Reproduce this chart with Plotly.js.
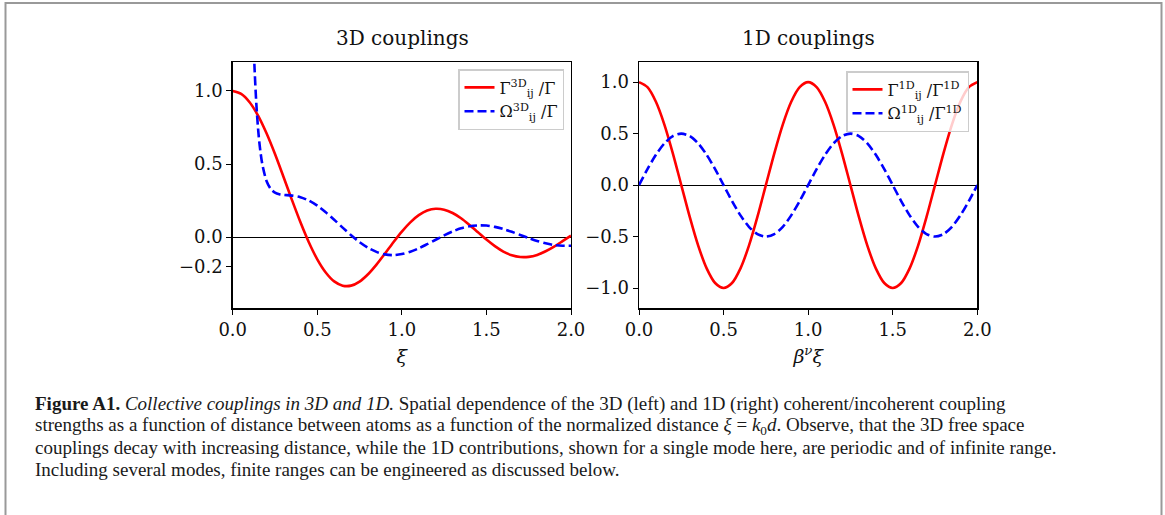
<!DOCTYPE html>
<html>
<head>
<meta charset="utf-8">
<script src="https://cdn.plot.ly/plotly-3.0.1.min.js"></script>
<style>
  html, body { margin: 0; padding: 0; background: #fff; }
  #fig { width: 1165px; height: 515px; }
</style>
</head>
<body>
<div id="fig"></div>
<script>
// ---- 3D free-space couplings vs normalized distance xi ----
const xi3D = [0, 0.05, 0.1, 0.15, 0.2, 0.25, 0.3, 0.35, 0.4, 0.45, 0.5, 0.55, 0.6, 0.65, 0.7,
  0.75, 0.8, 0.85, 0.9, 0.95, 1.0, 1.05, 1.1, 1.15, 1.2, 1.25, 1.3, 1.35, 1.4, 1.45, 1.5,
  1.55, 1.6, 1.65, 1.7, 1.75, 1.8, 1.85, 1.9, 1.95, 2.0];
const gamma3D = [1.0, 0.980, 0.923, 0.831, 0.710, 0.568, 0.413, 0.255, 0.103, -0.035, -0.152,
  -0.242, -0.303, -0.332, -0.332, -0.304, -0.254, -0.188, -0.113, -0.035, 0.038, 0.101, 0.150,
  0.182, 0.194, 0.188, 0.165, 0.129, 0.083, 0.033, -0.017, -0.062, -0.099, -0.124, -0.136,
  -0.135, -0.122, -0.097, -0.065, -0.028, 0.010];

const xiOmega3D = [0.12, 0.125, 0.13, 0.14, 0.15, 0.16, 0.175, 0.2, 0.225, 0.25, 0.275, 0.3,
  0.35, 0.4, 0.45, 0.5, 0.55, 0.6, 0.65, 0.7, 0.75, 0.8, 0.85, 0.9, 0.95, 1.0, 1.05, 1.1,
  1.15, 1.2, 1.25, 1.3, 1.35, 1.4, 1.45, 1.5, 1.55, 1.6, 1.65, 1.7, 1.75, 1.8, 1.85, 1.9,
  1.95, 2.0];
const omega3D = [1.454, 1.279, 1.133, 0.906, 0.742, 0.622, 0.499, 0.384, 0.329, 0.304, 0.293,
  0.289, 0.284, 0.273, 0.250, 0.215, 0.170, 0.119, 0.065, 0.013, -0.034, -0.073, -0.101,
  -0.118, -0.123, -0.116, -0.100, -0.077, -0.048, -0.018, 0.012, 0.039, 0.060, 0.074, 0.080,
  0.079, 0.070, 0.055, 0.036, 0.015, -0.006, -0.026, -0.042, -0.054, -0.059, -0.059];

// ---- 1D (single waveguide mode) couplings vs beta^nu xi ----
const xi1D = [0, 0.05, 0.1, 0.15, 0.2, 0.25, 0.3, 0.35, 0.4, 0.45, 0.5, 0.55, 0.6, 0.65, 0.7,
  0.75, 0.8, 0.85, 0.9, 0.95, 1.0, 1.05, 1.1, 1.15, 1.2, 1.25, 1.3, 1.35, 1.4, 1.45, 1.5,
  1.55, 1.6, 1.65, 1.7, 1.75, 1.8, 1.85, 1.9, 1.95, 2.0];
const gamma1D = [1, 0.951, 0.809, 0.588, 0.309, 0, -0.309, -0.588, -0.809, -0.951, -1,
  -0.951, -0.809, -0.588, -0.309, 0, 0.309, 0.588, 0.809, 0.951, 1,
  0.951, 0.809, 0.588, 0.309, 0, -0.309, -0.588, -0.809, -0.951, -1,
  -0.951, -0.809, -0.588, -0.309, 0, 0.309, 0.588, 0.809, 0.951, 1];
const omega1D = [0, 0.155, 0.294, 0.405, 0.476, 0.5, 0.476, 0.405, 0.294, 0.155, 0,
  -0.155, -0.294, -0.405, -0.476, -0.5, -0.476, -0.405, -0.294, -0.155, 0,
  0.155, 0.294, 0.405, 0.476, 0.5, 0.476, 0.405, 0.294, 0.155, 0,
  -0.155, -0.294, -0.405, -0.476, -0.5, -0.476, -0.405, -0.294, -0.155, 0];

// ---- tick labels ----
const xTickVals = [0, 0.5, 1.0, 1.5, 2.0];
const xTickText = ['0.0', '0.5', '1.0', '1.5', '2.0'];
const y3DTickVals = [-0.2, 0, 0.5, 1.0];
const y3DTickText = ['\u22120.2', '0.0', '0.5', '1.0'];
const y1DTickVals = [-1.0, -0.5, 0, 0.5, 1.0];
const y1DTickText = ['\u22121.0', '\u22120.5', '0.0', '0.5', '1.0'];

// ---- text ----
const panelTitles = ['3D couplings', '1D couplings'];
const captionLines = [
  '<b>Figure A1.</b> <i>Collective couplings in 3D and 1D.</i> Spatial dependence of the 3D (left) and 1D (right) coherent/incoherent coupling',
  'strengths as a function of distance between atoms as a function of the normalized distance <i>\u03be</i> = <i>k</i><sub>0</sub><i>d</i>. Observe, that the 3D free space',
  'couplings decay with increasing distance, while the 1D contributions, shown for a single mode here, are periodic and of infinite range.',
  'Including several modes, finite ranges can be engineered as discussed below.'
];

const W = 1165, H = 515;
const px = v => v / W;          // page x (px) -> paper x
const py = v => 1 - v / H;      // page y (px) -> paper y

const serif = 'Liberation Serif, DejaVu Serif, serif';
const wideSerif = 'DejaVu Serif, Liberation Serif, serif';
const RED = '#ff0000', BLUE = '#0000ff';

const traces = [
  { x: xi3D, y: gamma3D, xaxis: 'x', yaxis: 'y', mode: 'lines', legend: 'legend',
    name: '\u0393<sup>3D</sup><sub>ij</sub> /\u0393',
    line: { color: RED, width: 2.6, shape: 'spline', smoothing: 0.8 } },
  { x: xiOmega3D, y: omega3D, xaxis: 'x', yaxis: 'y', mode: 'lines', legend: 'legend',
    name: '\u03a9<sup>3D</sup><sub>ij</sub> /\u0393',
    line: { color: BLUE, width: 2.6, dash: '9px,4px', shape: 'spline', smoothing: 0.8 } },
  { x: xi1D, y: gamma1D, xaxis: 'x2', yaxis: 'y2', mode: 'lines', legend: 'legend2',
    name: '\u0393<sup>1D</sup><sub>ij</sub> /\u0393<sup>1D</sup>',
    line: { color: RED, width: 2.6, shape: 'spline', smoothing: 0.8 } },
  { x: xi1D, y: omega1D, xaxis: 'x2', yaxis: 'y2', mode: 'lines', legend: 'legend2',
    name: '\u03a9<sup>1D</sup><sub>ij</sub> /\u0393<sup>1D</sup>',
    line: { color: BLUE, width: 2.6, dash: '9px,4px', shape: 'spline', smoothing: 0.8 } }
];

const axisCommon = {
  showline: true, linecolor: '#000', linewidth: 1.4, mirror: true,
  ticks: 'outside', ticklen: 5, tickwidth: 1, tickcolor: '#000',
  showgrid: false, tickfont: { family: wideSerif, size: 18, color: '#111' }
};
const yDomain = [py(308.3), py(62.3)];

const legendCommon = {
  xanchor: 'right', yanchor: 'top',
  bgcolor: 'rgba(255,255,255,0.8)', bordercolor: '#cccccc', borderwidth: 1.5,
  font: { family: wideSerif, size: 16, color: '#111' }, tracegroupgap: 0
};

const layout = {
  width: W, height: H,
  margin: { l: 0, r: 0, t: 0, b: 0 },
  paper_bgcolor: '#fff', plot_bgcolor: '#fff',
  font: { family: serif, color: '#000' },
  xaxis: Object.assign({}, axisCommon, {
    domain: [px(232.7), px(571)], range: [0, 2], tickvals: xTickVals, ticktext: xTickText,
    zeroline: false, anchor: 'y',
    title: { text: '<i>\u03be</i>', font: { family: wideSerif, size: 19, color: '#111' }, standoff: 10 }
  }),
  yaxis: Object.assign({}, axisCommon, {
    domain: yDomain, range: [-0.487, 1.196], tickvals: y3DTickVals, ticktext: y3DTickText,
    zeroline: true, zerolinecolor: '#000', zerolinewidth: 1, anchor: 'x'
  }),
  xaxis2: Object.assign({}, axisCommon, {
    domain: [px(639), px(977.3)], range: [0, 2], tickvals: xTickVals, ticktext: xTickText,
    zeroline: false, anchor: 'y2',
    title: { text: '<i>\u03b2<sup>\u03bd</sup>\u03be</i>', font: { family: wideSerif, size: 19, color: '#111' }, standoff: 10 }
  }),
  yaxis2: Object.assign({}, axisCommon, {
    domain: yDomain, range: [-1.197, 1.193], tickvals: y1DTickVals, ticktext: y1DTickText,
    zeroline: true, zerolinecolor: '#000', zerolinewidth: 1, anchor: 'x2'
  }),
  legend: Object.assign({ x: px(564), y: py(69) }, legendCommon),
  legend2: Object.assign({ x: px(969), y: py(71) }, legendCommon),
  annotations: [
    { text: panelTitles[0], xref: 'paper', yref: 'paper', x: px(402), y: py(38),
      xanchor: 'center', yanchor: 'middle', showarrow: false,
      font: { family: wideSerif, size: 20, color: '#111' } },
    { text: panelTitles[1], xref: 'paper', yref: 'paper', x: px(808), y: py(38),
      xanchor: 'center', yanchor: 'middle', showarrow: false,
      font: { family: wideSerif, size: 20, color: '#111' } }
  ].concat(captionLines.map((t, i) => ({
    text: t, xref: 'paper', yref: 'paper', x: px(33), y: py(404 + i * 21.7),
    xanchor: 'left', yanchor: 'middle', align: 'left', showarrow: false,
    font: { family: serif, size: 19, color: '#1a1a1a' }
  }))),
  shapes: [
    { type: 'rect', xref: 'paper', yref: 'paper', x0: px(5.5), x1: px(1161.5), y0: -0.05, y1: py(3),
      line: { color: '#999999', width: 2 }, fillcolor: 'rgba(0,0,0,0)', layer: 'below' }
  ],
  showlegend: true
};

Plotly.newPlot('fig', traces, layout, { staticPlot: true, displayModeBar: false });
</script>
</body>
</html>
